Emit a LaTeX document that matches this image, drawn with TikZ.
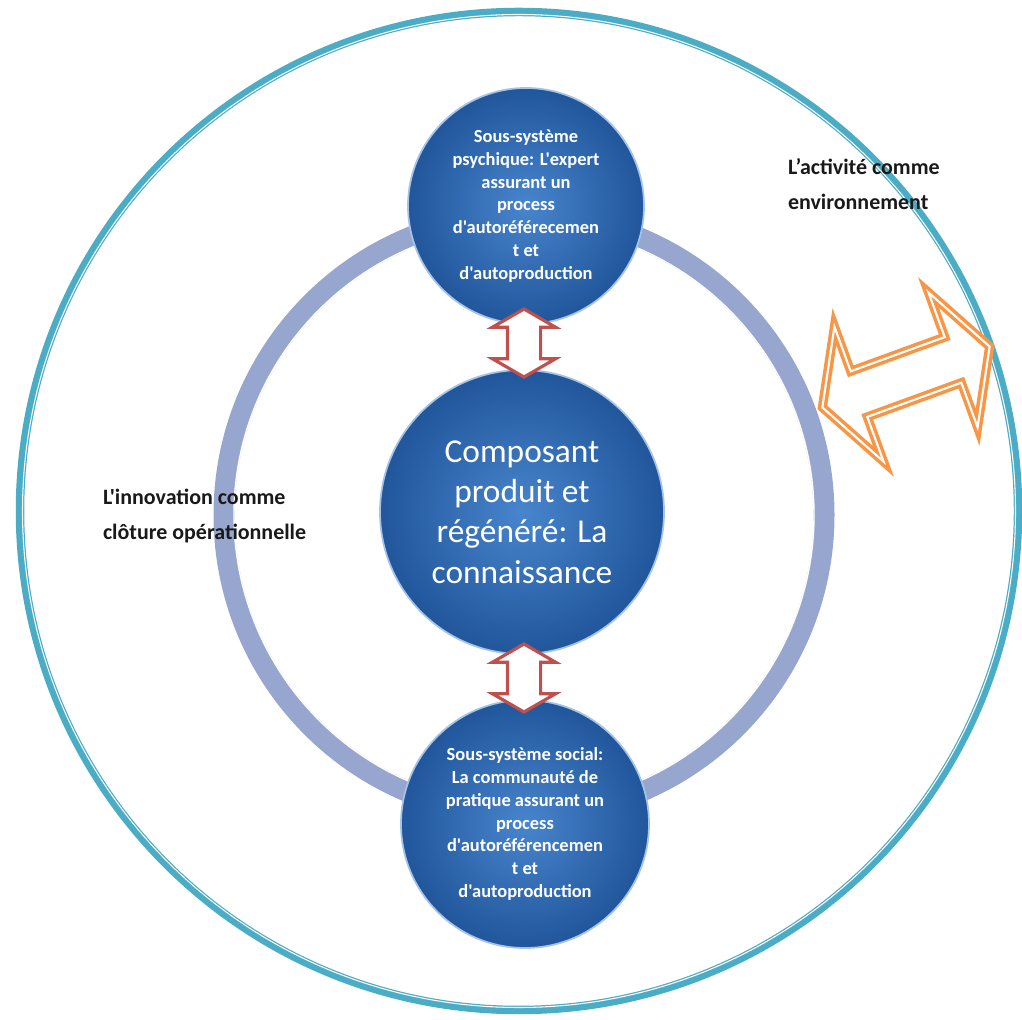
\documentclass[tikz,border=0pt]{standalone}
\usepackage{fontspec}
\setmainfont{Carlito}[Ligatures=TeXOff]
\usetikzlibrary{shapes.arrows}

\definecolor{bubblelight}{RGB}{72,133,205}
\definecolor{bubbledark}{RGB}{33,86,155}
\definecolor{bubblerim}{RGB}{165,195,232}
\definecolor{ringgray}{RGB}{150,166,206}
\definecolor{envteal}{RGB}{75,172,198}
\definecolor{arrowred}{RGB}{192,80,77}
\definecolor{arroworange}{RGB}{247,150,70}
\definecolor{labelink}{RGB}{25,25,25}

\begin{document}
\begin{tikzpicture}[inner sep=0pt,outer sep=0pt,
bubble/.style={circle,draw=bubblerim,line width=1pt,inner color=bubblelight,outer color=bubbledark,text=white,align=center},
subsys/.style={bubble,font=\bfseries\fontsize{10.5}{13}\selectfont},
redarrow/.style={double arrow,draw=arrowred,fill=white,line width=1.8pt,rotate=90,inner ysep=0.3cm,double arrow head extend=0.3cm,double arrow tip angle=120,minimum height=1.36cm},
tag/.style={anchor=west,align=left,text=labelink,font=\bfseries\fontsize{12.5}{20}\selectfont}]

\useasboundingbox (0,0) rectangle (20.44,20.38);

% environment and operational closure
\draw[envteal,line width=0.17cm] (10.38,10.16) circle (9.98cm);
\draw[white,line width=0.6pt] (10.38,10.16) circle (9.93cm);
\draw[ringgray,line width=0.42cm] (10.48,10.08) circle (6cm);
\draw[white,line width=0.8pt] (10.48,10.08) circle (5.8cm);

\draw (10.52,16.26) node[subsys,minimum size=4.72cm] (psy) {Sous-système\\psychique: L'expert\\assurant un\\process\\d'autoréférecemen\\t et\\d'autoproduction};
\draw (10.44,10.14) node[bubble,minimum size=5.68cm,font=\fontsize{19}{23}\selectfont] (core) {Composant\\produit et\\régénéré: La\\connaissance};
\draw (10.5,3.9) node[subsys,minimum size=4.96cm] (soc) {Sous-système social:\\La communauté de\\pratique assurant un\\process\\d'autoréférencemen\\t et\\d'autoproduction};

\draw (10.48,13.52) node[redarrow] (psycore) {};
\draw (10.48,6.82) node[redarrow] (coresoc) {};

\draw (18.12,12.84) node[double arrow,draw=arroworange,fill=white,line width=2pt,double=white,double distance=1.2pt,rotate=20,inner ysep=0.45cm,double arrow head extend=0.95cm,double arrow tip angle=123,minimum height=3.56cm] (exchange) {};

\draw (2.06,10.06) node[tag] (innov) {L'innovation comme\\clôture opérationnelle};
\draw (15.76,16.7) node[tag] (activ) {L’activité comme\\environnement};

\end{tikzpicture}
\end{document}
